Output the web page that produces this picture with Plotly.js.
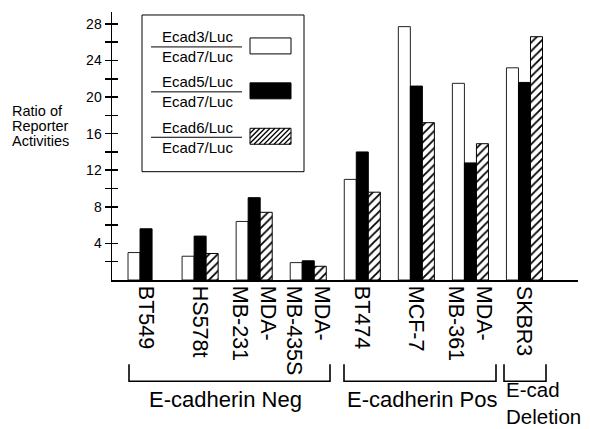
<!DOCTYPE html>
<html><head><meta charset="utf-8">
<script src="https://cdn.plot.ly/plotly-3.0.1.min.js"></script>
<style>html,body{margin:0;padding:0;background:#fff}</style>
</head><body><div id="chart" style="width:590px;height:429px"></div>
<script>
// ---- data ----
const cellLines = ['BT549','HS578t','MDA-<br>MB-231','MDA-<br>MB-435S','BT474','MCF-7','MDA-<br>MB-361','SKBR3'];
const ecad3Ratio = [3.0, 2.6, 6.4, 1.9, 11.0, 27.7, 21.5, 23.2];
const ecad5Ratio = [5.6, 4.8, 9.0, 2.1, 14.0, 21.2, 12.8, 21.6];
const ecad6Ratio = [null, 2.9, 7.4, 1.5, 9.6, 17.2, 14.9, 26.6];
const seriesNumerators = ['Ecad3/Luc','Ecad5/Luc','Ecad6/Luc'];
const seriesDenominator = 'Ecad7/Luc';
const yTickVals = [2,4,6,8,10,12,14,16,18,20,22,24,26,28];
const yTickText = ['','4','','8','','12','','16','','20','','24','','28'];
const yTitleLines = ['Ratio of','Reporter','Activities'];
const groupLabels = ['E-cadherin Neg','E-cadherin Pos','E-cad<br>Deletion'];

// ---- layout helpers (pixel -> paper) ----
const L=112, R=578, T=12, B=280.5;
const px = x => (x-L)/(R-L);
const py = y => (B-y)/(B-T);
const FONT = '"Liberation Sans", Arial, Helvetica, sans-serif';

const traces = [
  {type:'bar', x:cellLines, y:ecad3Ratio, name:seriesNumerators[0],
   marker:{color:'#ffffff', line:{color:'#222', width:1}}},
  {type:'bar', x:cellLines, y:ecad5Ratio, name:seriesNumerators[1],
   marker:{color:'#000000', line:{color:'#000', width:1}}},
  {type:'bar', x:cellLines, y:ecad6Ratio, name:seriesNumerators[2],
   marker:{color:'#ffffff', line:{color:'#000', width:1},
     pattern:{shape:'/', bgcolor:'#ffffff', fgcolor:'#000000', size:6, solidity:0.3}}},
  {type:'scatter', x:[], y:[], yaxis:'y2', showlegend:false, hoverinfo:'skip'}
];

const shapes = [];
const annotations = [];
// legend box
shapes.push({type:'rect', xref:'paper', yref:'paper', x0:px(142), x1:px(304), y0:py(172), y1:py(15), line:{color:'#000', width:1}, fillcolor:'rgba(0,0,0,0)'});
const rows = [37, 82, 127.5];
const fills = ['#ffffff','#000000','#ffffff'];
rows.forEach((cy,i)=>{
  annotations.push({xref:'paper', yref:'paper', x:px(197), y:py(cy), text:seriesNumerators[i], showarrow:false, xanchor:'center', yanchor:'middle', font:{family:FONT, size:15, color:'#000'}});
  annotations.push({xref:'paper', yref:'paper', x:px(197), y:py(cy+20), text:seriesDenominator, showarrow:false, xanchor:'center', yanchor:'middle', font:{family:FONT, size:15, color:'#000'}});
  shapes.push({type:'line', xref:'paper', yref:'paper', x0:px(151), x1:px(242), y0:py(cy+10), y1:py(cy+10), line:{color:'#000', width:1}});
  const sy0 = cy+1, sy1 = cy+17;
  shapes.push({type:'rect', xref:'paper', yref:'paper', x0:px(250), x1:px(291), y0:py(sy1), y1:py(sy0), line:{color:'#000', width:1}, fillcolor:fills[i]});
  if (i===2) {
    const h = sy1-sy0, xa=250, xb=291;
    for (let c = xa - h; c < xb; c += 5) {
      let x0=c, y0=sy1, x1=c+h, y1=sy0;
      if (x0 < xa) { y0 = sy1-(xa-c); x0 = xa; }
      if (x1 > xb) { y1 = sy1-(xb-c); x1 = xb; }
      shapes.push({type:'line', xref:'paper', yref:'paper', x0:px(x0), x1:px(x1), y0:py(y0), y1:py(y1), line:{color:'#000', width:1.3}});
    }
  }
});
// y title lines
[111,126,141].forEach((cy,i)=>{
  annotations.push({xref:'paper', yref:'paper', x:px(10), y:py(cy), text:yTitleLines[i], showarrow:false, xanchor:'left', yanchor:'middle', font:{family:FONT, size:14.5, color:'#000'}});
});
// brackets
const brackets = [[129,330],[344,496],[504,546]];
brackets.forEach(b=>{
  shapes.push({type:'path', xref:'paper', yref:'paper',
    path:`M ${px(b[0])},${py(365)} L ${px(b[0])},${py(382)} L ${px(b[1])},${py(382)} L ${px(b[1])},${py(365)}`,
    line:{color:'#000', width:1.6}});
});
const gFont = {family:FONT, size:22, color:'#000'};
annotations.push({xref:'paper', yref:'paper', x:px(225), y:py(400), text:groupLabels[0], showarrow:false, xanchor:'center', yanchor:'middle', font:gFont});
annotations.push({xref:'paper', yref:'paper', x:px(422), y:py(400), text:groupLabels[1], showarrow:false, xanchor:'center', yanchor:'middle', font:gFont});
annotations.push({xref:'paper', yref:'paper', x:px(505), y:py(429.5), text:groupLabels[2], showarrow:false, xanchor:'left', yanchor:'bottom', align:'left', borderpad:0, font:{family:FONT, size:20.5, color:'#000'}});

const yr = [0, 29.3];
const layout = {
  width:590, height:429,
  margin:{l:L, r:590-R, t:T, b:429-B, pad:0},
  paper_bgcolor:'#fff', plot_bgcolor:'#fff',
  showlegend:false,
  barmode:'group', bargap:0.333, bargroupgap:0,
  font:{family:FONT, color:'#000'},
  xaxis:{type:'category', range:[-0.63, 7.99], tickangle:90, ticks:'', showline:true, linecolor:'#000', linewidth:1.5,
         showgrid:false, zeroline:false, tickfont:{family:FONT, size:21.5, color:'#000'}, fixedrange:true},
  yaxis:{range:yr, tickmode:'array', tickvals:yTickVals, ticktext:yTickText, ticks:'outside', ticklen:6, tickwidth:1.5, tickcolor:'#000',
         showline:true, linecolor:'#000', linewidth:1.5, showgrid:false, zeroline:false,
         tickfont:{family:FONT, size:14, color:'#000'}, fixedrange:true},
  yaxis2:{range:yr, overlaying:'y', side:'left', anchor:'x', tickmode:'array', tickvals:yTickVals, ticks:'inside', ticklen:6, tickwidth:1.5, tickcolor:'#000',
          showticklabels:false, showline:false, showgrid:false, zeroline:false, fixedrange:true},
  shapes: shapes,
  annotations: annotations
};
Plotly.newPlot('chart', traces, layout, {staticPlot:true, displayModeBar:false});
</script></body></html>
